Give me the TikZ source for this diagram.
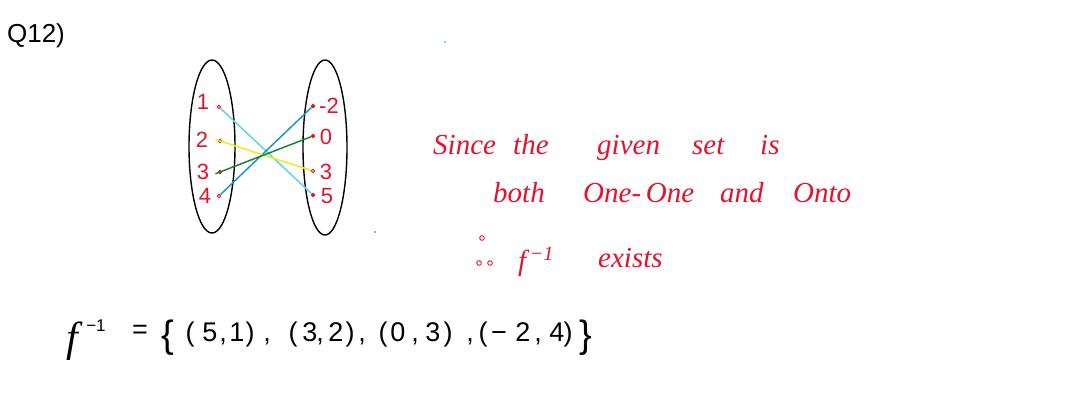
\documentclass[tikz,border=0pt]{standalone}
\usepackage{fontspec}
\setmainfont{Liberation Serif}
\setsansfont{Liberation Sans}
\definecolor{inkred}{RGB}{226,19,44}
\definecolor{lcyan}{RGB}{95,212,235}
\definecolor{lblue}{RGB}{30,150,200}
\definecolor{lyellow}{RGB}{240,235,30}
\definecolor{lgreen}{RGB}{30,130,60}
\begin{document}
\begin{tikzpicture}[x=1pt,y=-1pt,
  setoval/.style={draw=black,line width=1.4pt},
  elemdot/.style={circle,draw=inkred,line width=0.8pt,inner sep=0pt,minimum size=3.4pt},
  lbl/.style={text=inkred,font=\sffamily\fontsize{22}{22}\selectfont,inner sep=0pt},
  redword/.style={text=inkred,font=\itshape\fontsize{29}{29}\selectfont,anchor=base west,inner sep=0pt},
  blk/.style={font=\sffamily\fontsize{27}{27}\selectfont,anchor=base,inner sep=0pt},
  link/.style={line width=1.5pt}]
\useasboundingbox (0,0) rectangle (1071,409);
% heading
\node[font=\sffamily\fontsize{26}{26}\selectfont,inner sep=0pt] (q) at (36,36) {Q12)};
% sets
\draw[setoval] (212,146.5) ellipse [x radius=23, y radius=86.5];
\draw[setoval] (325,147.5) ellipse [x radius=22, y radius=87.5];
% left elements
\node[lbl] (n1) at (203,102) {1};
\node[lbl] (n2) at (202,140) {2};
\node[lbl] (n3) at (203,172) {3};
\node[lbl] (n4) at (205,196) {4};
\node[elemdot] (l1) at (219,107) {};
\node[elemdot,fill=inkred] (l2) at (220,141) {};
\node[elemdot,fill=inkred] (l3) at (220,172) {};
\node[elemdot] (l4) at (219,196) {};
% right elements
\node[elemdot,fill=inkred] (r1) at (313,106) {};
\node[elemdot,fill=inkred] (r2) at (313,136) {};
\node[elemdot] (r3) at (313,171) {};
\node[elemdot,fill=inkred] (r4) at (313,195) {};
\node[lbl] (m1) at (329,106) {-2};
\node[lbl] (m2) at (326,137) {0};
\node[lbl] (m3) at (326,172) {3};
\node[lbl] (m4) at (327,196) {5};
% connectors
\draw[link,lcyan] (l1) -- (r4);
\draw[link,lblue] (l4) -- (r1);
\draw[link,lyellow,shorten <=-7pt] (l2) -- (r3);
\draw[link,lgreen,shorten <=-7pt] (l3) -- (r2);
% red text
\node[redword] (w1) at (433,155) {Since};
\node[redword] (w2) at (513,155) {the};
\node[redword] (w3) at (597,155) {given};
\node[redword] (w4) at (692,155) {set};
\node[redword] (w5) at (760,155) {is};
\node[redword] (w6) at (493,202) {both};
\node[redword] (w7) at (583,202) {One-\,One};
\node[redword] (w8) at (720,202) {and};
\node[redword] (w9) at (793,202) {Onto};
\draw[inkred,line width=0.9pt] (482,238) circle (2.3) (479,263) circle (2.3) (490,263) circle (2.3);
\node[redword] (w10) at (518,270) {f\textsuperscript{\,−1}};
\node[redword] (w11) at (598,267) {exists};
% bottom line
\node[font=\itshape\fontsize{42}{42}\selectfont,anchor=base,inner sep=0pt] (bf) at (72,351) {f};
\node[font=\sffamily\fontsize{17}{17}\selectfont,inner sep=0pt] (bm) at (96,326) {−1};
\node[blk] (eq) at (140,338) {=};
\node[font=\sffamily\fontsize{38}{38}\selectfont,anchor=base,inner sep=0pt] (lb) at (168,347) {\{};
\node[font=\sffamily\fontsize{38}{38}\selectfont,anchor=base,inner sep=0pt] (rb) at (586,347) {\}};
\foreach \px/\ch [count=\i] in {190/(,210/5,223/{,},237/1,250/),267/{,},
  293/(,310/3,320/{,},336/2,350/),362/{,},
  383/(,398/0,415/{,},433/3,448/),470/{,},
  483/(,499/−,523/2,538/{,},557/4,568/)}
  \node[blk] (t\i) at (\px,341) {\ch};
% specks
\fill[yellow!60] (280,16) circle (0.8);
\fill[lblue] (445,42) circle (0.9);
\fill[black!70] (375,232) circle (0.9);
\end{tikzpicture}
\end{document}
